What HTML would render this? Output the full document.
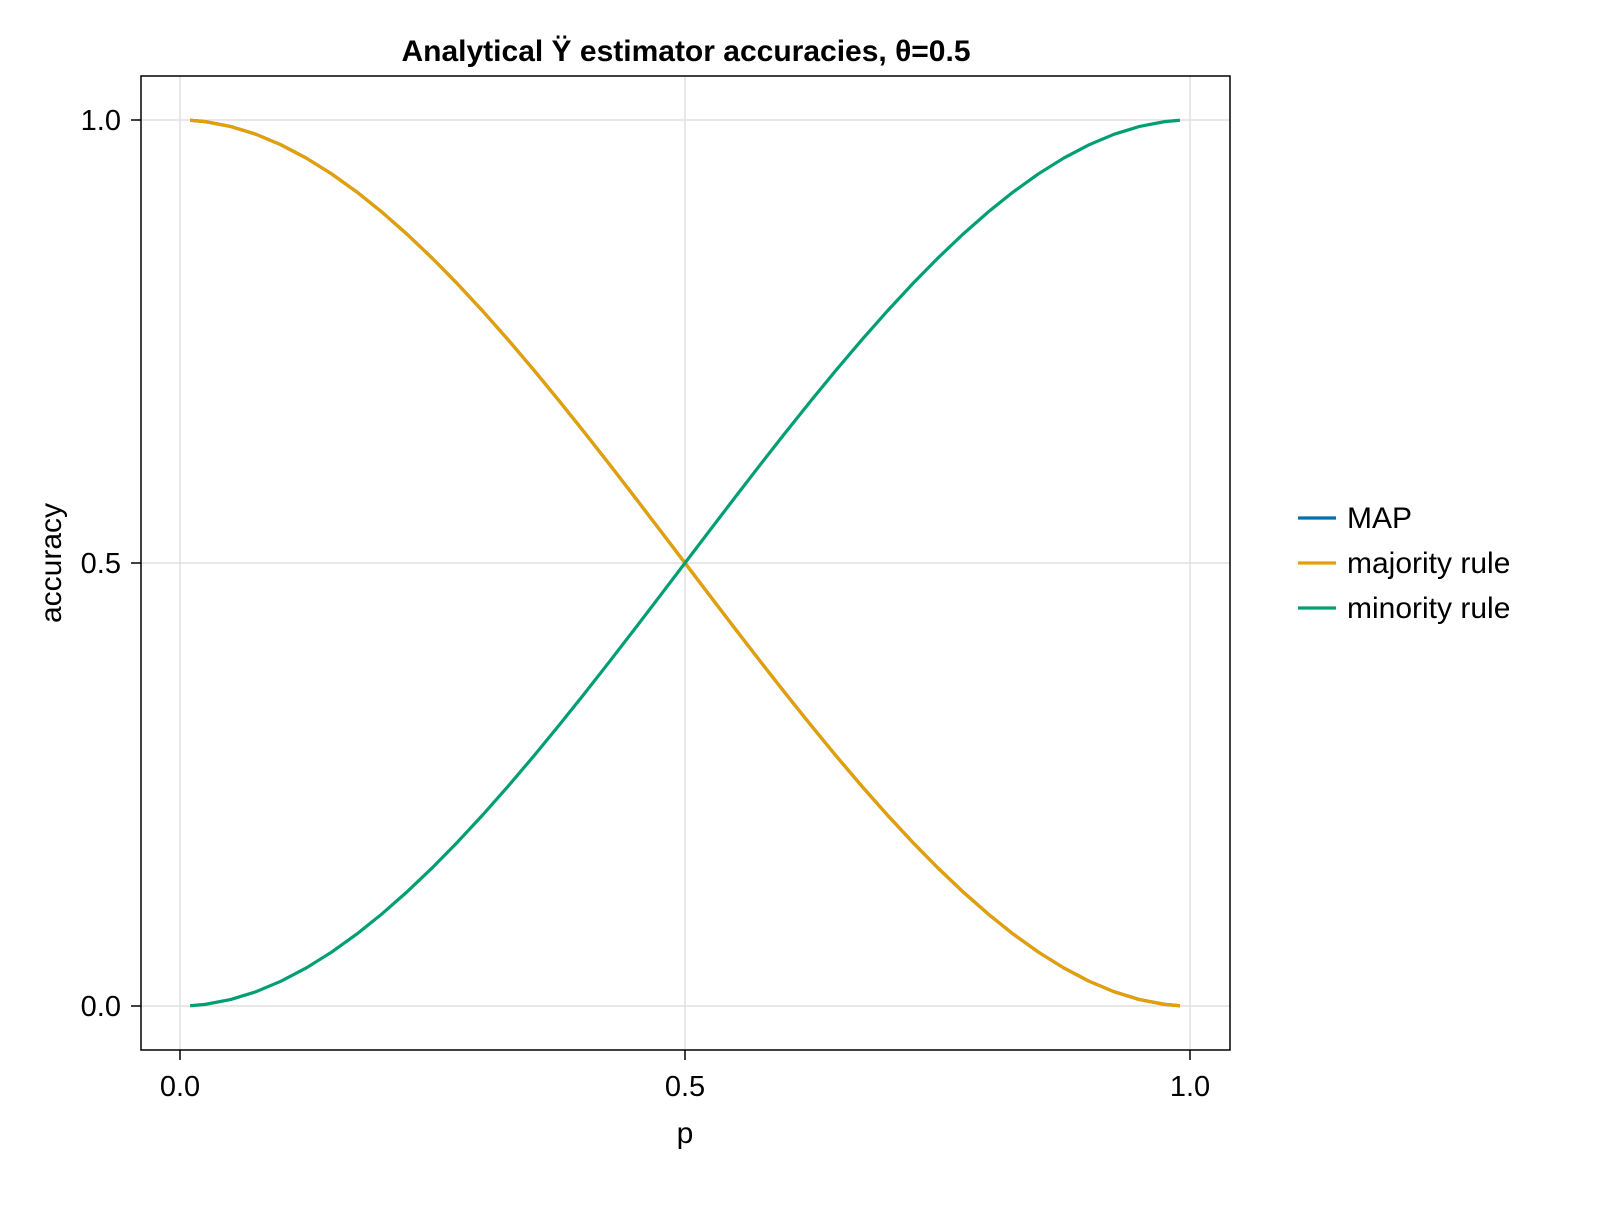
<!DOCTYPE html>
<html><head><meta charset="utf-8"><style>
body{margin:0;background:#fff;}
svg text{font-family:"Liberation Sans",sans-serif;fill:#000;}
</style></head><body>
<svg id="chart" width="1600" height="1200" viewBox="0 0 1600 1200" xmlns="http://www.w3.org/2000/svg">
<rect width="1600" height="1200" fill="#fff"/>
<g id="grid"></g>
<g id="series"></g>
<rect x="141" y="76" width="1089" height="974" fill="none" stroke="#000" stroke-width="1.5"/>
<g id="ticks"></g>
<text x="686" y="61" text-anchor="middle" font-size="30" font-weight="bold">Analytical Ÿ estimator accuracies, θ=0.5</text>
<text x="685" y="1143" text-anchor="middle" font-size="30">p</text>
<text transform="translate(61,563) rotate(-90)" text-anchor="middle" font-size="30">accuracy</text>
<g id="legend"></g>
</svg>
<script>
const pVals=[0.01,0.025,0.05,0.075,0.1,0.125,0.15,0.175,0.2,0.225,0.25,0.275,0.3,0.325,0.35,0.375,0.4,0.425,0.45,0.475,0.5,0.525,0.55,0.575,0.6,0.625,0.65,0.675,0.7,0.725,0.75,0.775,0.8,0.825,0.85,0.875,0.9,0.925,0.95,0.975,0.99];
const majorityAcc=[0.9997,0.99816,0.99275,0.98397,0.972,0.95703,0.93925,0.91884,0.896,0.87091,0.84375,0.81472,0.784,0.75178,0.71825,0.68359,0.648,0.61166,0.57475,0.53747,0.5,0.46253,0.42525,0.38834,0.352,0.31641,0.28175,0.24822,0.216,0.18528,0.15625,0.12909,0.104,0.08116,0.06075,0.04297,0.028,0.01603,0.00725,0.00184,0.0003];
const mapAcc=[0.9997,0.99816,0.99275,0.98397,0.972,0.95703,0.93925,0.91884,0.896,0.87091,0.84375,0.81472,0.784,0.75178,0.71825,0.68359,0.648,0.61166,0.57475,0.53747,0.5,0.46253,0.42525,0.38834,0.352,0.31641,0.28175,0.24822,0.216,0.18528,0.15625,0.12909,0.104,0.08116,0.06075,0.04297,0.028,0.01603,0.00725,0.00184,0.0003];
const minorityAcc=[0.0003,0.00184,0.00725,0.01603,0.028,0.04297,0.06075,0.08116,0.104,0.12909,0.15625,0.18528,0.216,0.24822,0.28175,0.31641,0.352,0.38834,0.42525,0.46253,0.5,0.53747,0.57475,0.61166,0.648,0.68359,0.71825,0.75178,0.784,0.81472,0.84375,0.87091,0.896,0.91884,0.93925,0.95703,0.972,0.98397,0.99275,0.99816,0.9997];
const xTicks=[0,0.5,1];
const yTicks=[0,0.5,1];
const xTickLabels=["0.0","0.5","1.0"];
const yTickLabels=["0.0","0.5","1.0"];
const seriesNames=["MAP","majority rule","minority rule"];
const colors=["#0072B2","#E69F00","#009E73"];
const NS="http://www.w3.org/2000/svg";
const X=v=>180+v*1010, Y=v=>1006-v*886;
function mk(tag,attrs,parent){const e=document.createElementNS(NS,tag);for(const k in attrs)e.setAttribute(k,attrs[k]);parent.appendChild(e);return e;}
const grid=document.getElementById('grid'),ticks=document.getElementById('ticks'),series=document.getElementById('series'),legend=document.getElementById('legend');
xTicks.forEach((t,i)=>{
 const g=mk('line',{x1:X(t),x2:X(t),y1:76,y2:1050,stroke:'#e0e0e0','stroke-width':1.5},grid);
 
 
 const tk=mk('line',{x1:X(t),x2:X(t),y1:1050,y2:1060,stroke:'#000','stroke-width':1.5},ticks);
 
 
 const tx=mk('text',{x:X(t),y:1096,'text-anchor':'middle','font-size':29},ticks);tx.textContent=xTickLabels[i];
 
 
});
yTicks.forEach((t,i)=>{
 const g=mk('line',{x1:141,x2:1230,y1:Y(t),y2:Y(t),stroke:'#e0e0e0','stroke-width':1.5},grid);
 
 
 const tk=mk('line',{x1:131,x2:141,y1:Y(t),y2:Y(t),stroke:'#000','stroke-width':1.5},ticks);
 
 
 const tx=mk('text',{x:121,y:Y(t)+10,'text-anchor':'end','font-size':29},ticks);tx.textContent=yTickLabels[i];
 
 
});
[mapAcc,majorityAcc,minorityAcc].forEach((arr,si)=>{
 const pts=arr.map((v,i)=>X(pVals[i])+','+Y(v)).join(' ');
 const l=mk('polyline',{points:pts,fill:'none',stroke:colors[si],'stroke-width':3.2,'stroke-linejoin':'round'},series);
 
 
 const ly=518+si*45;
 const ll=mk('line',{x1:1298,x2:1336,y1:ly,y2:ly,stroke:colors[si],'stroke-width':3.2},legend);
 
 
 const lt=mk('text',{x:1347,y:ly+10,'font-size':30},legend);lt.textContent=seriesNames[si];
 
 
});
</script>
</body></html>
